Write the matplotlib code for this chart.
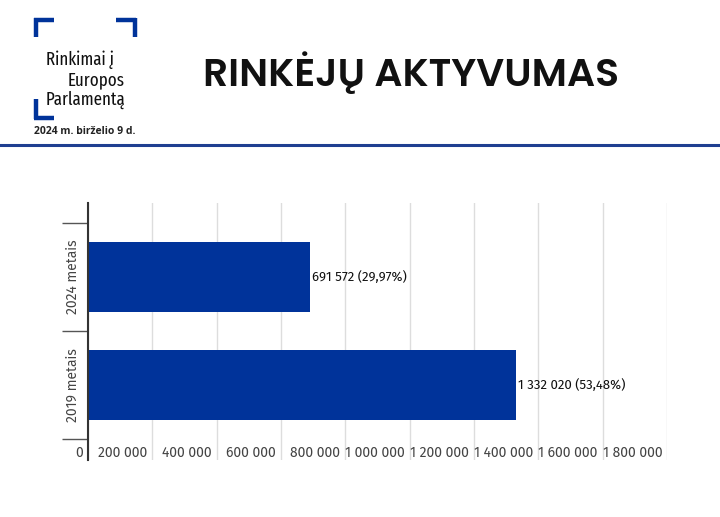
import matplotlib.pyplot as plt
import matplotlib.transforms as mtransforms
from matplotlib.lines import Line2D
import numpy as np

# data
categories = ['2019 metais', '2024 metais']
voters = [1332020, 691572]
turnout_pct = ['53,48%', '29,97%']
x_ticks = [0, 200000, 400000, 600000, 800000, 1000000, 1200000, 1400000, 1600000, 1800000]
x_tick_labels = ['0', '200 000', '400 000', '600 000', '800 000', '1 000 000',
                 '1 200 000', '1 400 000', '1 600 000', '1 800 000']

blue = '#00339a'
plt.rcParams['font.family'] = ['Fira Sans', 'DejaVu Sans']

fig = plt.figure(figsize=(7.2, 5.17), dpi=100)

# header: logo brackets
W, H = 720, 517
def px(x, y):
    return x / W, 1 - y / H

def seg(x0, y0, x1, y1, lw=3.2):
    a = px(x0, y0); b = px(x1, y1)
    fig.add_artist(Line2D([a[0], b[0]], [a[1], b[1]], color=blue, lw=lw,
                          solid_capstyle='butt', transform=fig.transFigure))

seg(34, 19.5, 54, 19.5); seg(35.5, 18, 35.5, 37)
seg(116, 19.5, 136, 19.5); seg(134.5, 18, 134.5, 37)
seg(35.5, 99, 35.5, 119); seg(34, 117.5, 54, 117.5)

# logo text (the first line's last glyph sits past its box, so nudge it left)
logo_lines = ['Rinkimai į', 'Europos', 'Parlamentą']
logo_right = [114, 125, 125]
for i, (t, xr) in enumerate(zip(logo_lines, logo_right)):
    fig.text(*px(xr, 60 + 20 * i), t, ha='right', va='center', fontsize=13.2,
             family=['Fira Sans Extra Condensed', 'DejaVu Sans'], color='#111111')
fig.text(*px(34, 131), '2024 m. birželio 9 d.', ha='left', va='center',
         fontsize=7.5, fontweight='bold', family=['Open Sans', 'DejaVu Sans'],
         color='#222222')

a = px(0, 145); b = px(720, 145)
fig.add_artist(Line2D([a[0], b[0]], [a[1], b[1]], color='#1f3f91', lw=2.2,
                      transform=fig.transFigure))

fig.text(*px(411, 75), 'RINKĖJŲ AKTYVUMAS', ha='center', va='center',
         fontsize=28.3, fontweight=600, family=['Poppins', 'DejaVu Sans'],
         color='#111111')

# chart
ax = fig.add_axes([88 / W, 1 - 460 / H, (667 - 88) / W, (460 - 203) / H])
ypos = np.arange(len(categories))
ax.barh(ypos, voters, height=0.65, color=blue, zorder=2)
for y, v, p in zip(ypos, voters, turnout_pct):
    lbl = f'{v:,}'.replace(',', ' ') + f' ({p})'
    ax.text(v + 6000, y, lbl, va='center', ha='left', fontsize=9.5, color='#111111')

ax.set_xlim(0, 1800000)
ax.set_ylim(-0.695, 1.685)
ax.set_xticks(x_ticks)
ax.set_xticklabels(x_tick_labels, ha='right', fontsize=10, color='#444444')
ax.tick_params(axis='x', length=0, pad=-10.5)
offset = mtransforms.ScaledTranslation(-3.5 / 72, 0, fig.dpi_scale_trans)
for lab in ax.get_xticklabels():
    lab.set_transform(lab.get_transform() + offset)

ax.set_yticks(ypos)
ax.set_yticklabels(categories, rotation=90, va='center', fontsize=10, color='#444444')
ax.set_yticks([-0.5, 0.5, 1.5], minor=True)
ax.tick_params(axis='y', which='major', length=0, pad=6)
ax.tick_params(axis='y', which='minor', length=19, width=1, color='#555555')

ax.grid(axis='x', color='#dddddd', lw=1, zorder=0)
for s in ['top', 'right', 'bottom']:
    ax.spines[s].set_visible(False)
ax.spines['left'].set_color('#333333')
ax.spines['left'].set_linewidth(1.5)

fig.savefig('out.png', dpi=100)
